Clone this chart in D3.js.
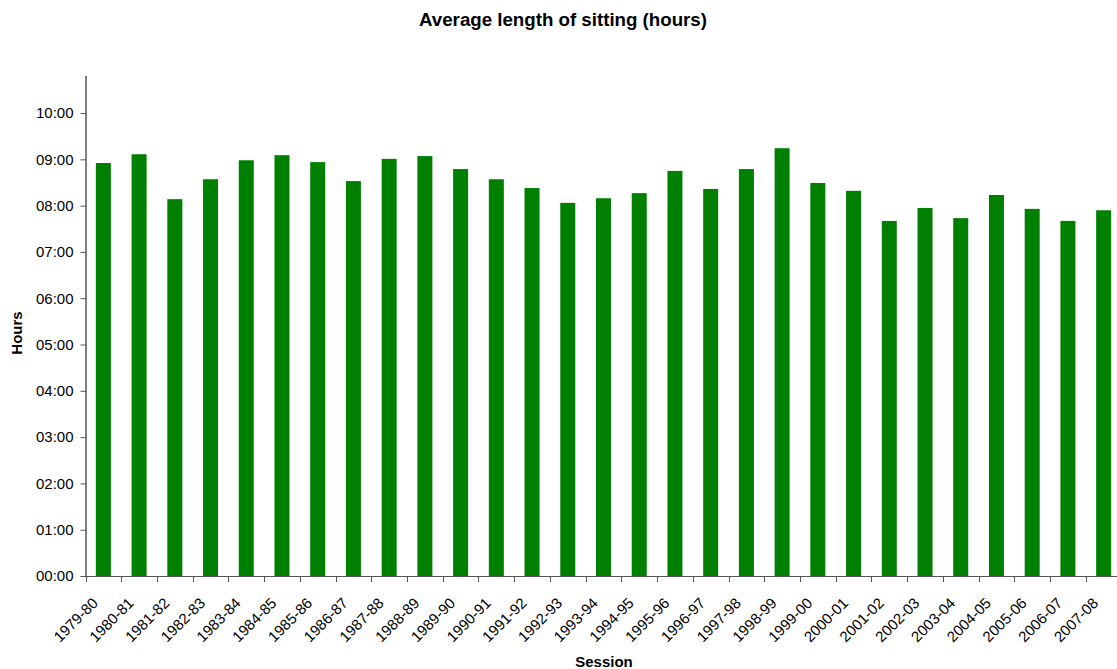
<!DOCTYPE html>
<html>
<head>
<meta charset="utf-8">
<script src="https://cdn.jsdelivr.net/npm/d3@7"></script>
<style>
  html, body { margin: 0; padding: 0; background: #fff; }
  svg { display: block; font-family: Arial, "Liberation Sans", sans-serif; }
</style>
</head>
<body>
<svg id="chart" width="1117" height="669"></svg>
<script>
const sessions = ["1979-80","1980-81","1981-82","1982-83","1983-84","1984-85","1985-86","1986-87","1987-88","1988-89","1989-90","1990-91","1991-92","1992-93","1993-94","1994-95","1995-96","1996-97","1997-98","1998-99","1999-00","2000-01","2001-02","2002-03","2003-04","2004-05","2005-06","2006-07","2007-08"];
// average sitting length in hours
const hours = [8.92, 9.11, 8.14, 8.57, 8.98, 9.09, 8.94, 8.53, 9.01, 9.07, 8.79, 8.57, 8.38, 8.06, 8.16, 8.27, 8.75, 8.36, 8.79, 9.24, 8.49, 8.32, 7.67, 7.95, 7.73, 8.23, 7.93, 7.67, 7.90];
const yTicks = [0,1,2,3,4,5,6,7,8,9,10];
const yMax = 10.8;

const svg = d3.select("#chart");
const mLeft = 85.5, mRight = 1121.5, mTop = 76, mBottom = 576;

const x = d3.scaleBand().domain(sessions).range([mLeft, mRight]).paddingInner(0.58).paddingOuter(0.29);
const y = d3.scaleLinear().domain([0, yMax]).range([mBottom, mTop]);

const fmt = h => String(Math.floor(h)).padStart(2, "0") + ":" + String(Math.round((h % 1) * 60)).padStart(2, "0");

// bars
svg.append("g").selectAll("rect").data(hours).join("rect")
  .attr("x", (d, i) => x(sessions[i]))
  .attr("y", d => y(d))
  .attr("width", x.bandwidth())
  .attr("height", d => mBottom - y(d))
  .attr("fill", "#008000");

// y axis
const yAxis = svg.append("g").attr("transform", `translate(${mLeft},0)`)
  .call(d3.axisLeft(y).tickValues(yTicks).tickFormat(fmt).tickSize(5).tickSizeOuter(0));
yAxis.select(".domain").attr("stroke", "#000").attr("d", `M0.5,${mTop}V${mBottom}`);
yAxis.selectAll(".tick line").attr("stroke", "#555").attr("x1", 0.5);
yAxis.selectAll(".tick text").attr("font-size", 15).attr("fill", "#000").attr("x", -12)
  .attr("font-family", "Arial, 'Liberation Sans', sans-serif");

// x axis with ticks at category boundaries
const xg = svg.append("g");
xg.append("line").attr("x1", mLeft).attr("x2", mRight).attr("y1", mBottom + 0.5).attr("y2", mBottom + 0.5).attr("stroke", "#555");
const step = x.step();
const boundaries = d3.range(sessions.length + 1).map(i => mLeft + i * step);
xg.selectAll("line.t").data(boundaries).join("line").attr("class", "t")
  .attr("x1", d => Math.round(d) + 0.5).attr("x2", d => Math.round(d) + 0.5)
  .attr("y1", mBottom).attr("y2", mBottom + 6).attr("stroke", "#555");
xg.selectAll("text").data(sessions).join("text")
  .attr("transform", d => `translate(${x(d) + x.bandwidth() / 2 - 4.5},${mBottom + 28}) rotate(-45)`)
  .attr("text-anchor", "end")
  .attr("font-size", 15)
  .attr("fill", "#000")
  .text(d => d);

// titles
svg.append("text").attr("x", 563).attr("y", 26).attr("text-anchor", "middle")
  .attr("font-size", 18.7).attr("font-weight", "bold").text("Average length of sitting (hours)");
svg.append("text").attr("x", 604).attr("y", 667).attr("text-anchor", "middle")
  .attr("font-size", 15).attr("font-weight", "bold").text("Session");
svg.append("text").attr("transform", "translate(22,333) rotate(-90)").attr("text-anchor", "middle")
  .attr("font-size", 15).attr("font-weight", "bold").text("Hours");
</script>
</body>
</html>
